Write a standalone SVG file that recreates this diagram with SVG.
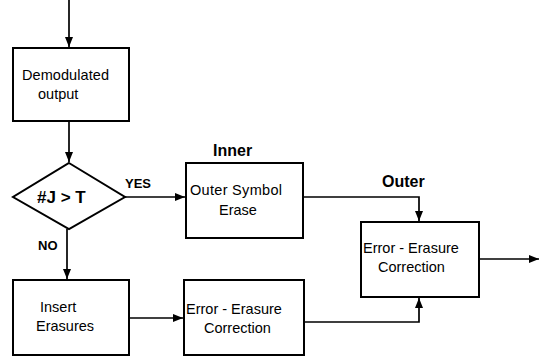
<svg xmlns="http://www.w3.org/2000/svg" width="540" height="359" viewBox="0 0 540 359">
<style>
.box{fill:#fff;stroke:#000;stroke-width:2}
.t{font-family:"Liberation Sans",Arial,sans-serif;font-size:14.5px;fill:#000}
.b{font-family:"Liberation Sans",Arial,sans-serif;font-weight:bold;fill:#000}
.c{fill:none;stroke:#000;stroke-width:1.7}
</style>
<defs>
<marker id="ah" viewBox="0 0 10 8" refX="10" refY="4" markerWidth="10" markerHeight="8" markerUnits="userSpaceOnUse" orient="auto">
<path d="M0,0 L10,4 L0,8 Z" fill="#000"/>
</marker>
</defs>
<g id="connectors">
<line class="c" x1="69" y1="0" x2="69" y2="47" marker-end="url(#ah)"/>
<line class="c" x1="69" y1="121" x2="69" y2="162" marker-end="url(#ah)"/>
<line class="c" x1="125" y1="197" x2="185" y2="197" marker-end="url(#ah)"/>
<line class="c" x1="67" y1="229" x2="67" y2="279" marker-end="url(#ah)"/>
<line class="c" x1="129" y1="318" x2="183" y2="318" marker-end="url(#ah)"/>
<polyline class="c" points="303,197 419,197 419,221" marker-end="url(#ah)"/>
<polyline class="c" points="304,322 419,322 419,298" marker-end="url(#ah)"/>
<line class="c" x1="479" y1="259" x2="539" y2="259" marker-end="url(#ah)"/>
<text class="b" x="125" y="188" font-size="13">YES</text>
<text class="b" x="38" y="250" font-size="13">NO</text>
</g>
<g id="demod">
<rect class="box" x="13" y="48" width="116" height="73"/>
<text class="t" x="22" y="80" textLength="87">Demodulated</text>
<text class="t" x="38" y="99">output</text>
</g>
<g id="decision">
<polygon class="box" points="69,163 125,197 69,229 13,197"/>
<text class="b" x="37" y="203" font-size="17">#J &gt; T</text>
</g>
<g id="inner">
<text class="b" x="213" y="156" font-size="16">Inner</text>
<rect class="box" x="186" y="163" width="117" height="75"/>
<text class="t" x="190" y="195" textLength="92">Outer Symbol</text>
<text class="t" x="219" y="215">Erase</text>
</g>
<g id="insert">
<rect class="box" x="13" y="280" width="116" height="75"/>
<text class="t" x="40" y="312">Insert</text>
<text class="t" x="36" y="331">Erasures</text>
</g>
<g id="eec1">
<rect class="box" x="184" y="280" width="120" height="75"/>
<text class="t" x="186" y="314">Error - Erasure</text>
<text class="t" x="204" y="333">Correction</text>
</g>
<g id="outer">
<text class="b" x="382" y="187" font-size="16">Outer</text>
<rect class="box" x="361" y="222" width="118" height="75"/>
<text class="t" x="363" y="253">Error - Erasure</text>
<text class="t" x="378" y="272">Correction</text>
</g>
</svg>
